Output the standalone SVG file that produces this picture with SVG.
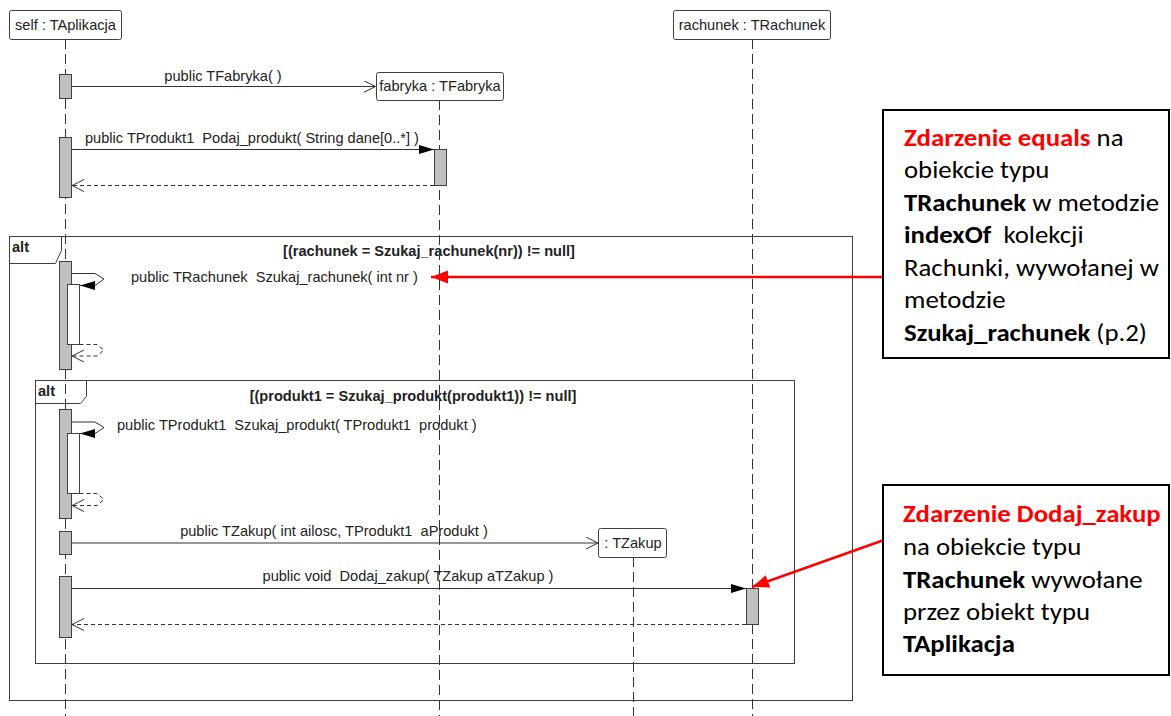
<svg xmlns="http://www.w3.org/2000/svg" width="1171" height="716" viewBox="0 0 1171 716">
<style>
.head{fill:#fff;stroke:#404040;stroke-width:1}
.t{font-family:"Liberation Sans",Arial,sans-serif;font-size:14.6px;fill:#222}
.b{font-weight:bold}
.life{stroke:#333;stroke-width:1;stroke-dasharray:10,5;fill:none}
.act{fill:#c0c0c0;stroke:#404040;stroke-width:1}
.act2{fill:#fff;stroke:#404040;stroke-width:1}
.frame{fill:none;stroke:#404040;stroke-width:1}
.msg{fill:none;stroke:#333;stroke-width:1}
.ret{fill:none;stroke:#333;stroke-width:1;stroke-dasharray:4,3}
.note{fill:#fff;stroke:#000;stroke-width:2}
.nt{font-family:Carlito,Lato,"Noto Sans",sans-serif;font-size:23.5px;fill:#000}
.red{fill:#ff0000;font-weight:bold}
.bb{font-weight:bold}
.ra{stroke:#ff0000;stroke-width:2.5;fill:none}
</style>
<defs>
<marker id="open" markerUnits="userSpaceOnUse" markerWidth="14" markerHeight="14" refX="12" refY="6" orient="auto">
<path d="M0,0 L12,6 L0,12" fill="none" stroke="#333" stroke-width="1"/>
</marker>
<marker id="fill" markerUnits="userSpaceOnUse" markerWidth="16" markerHeight="10" refX="15" refY="4.5" orient="auto">
<path d="M0,0 L15,4.5 L0,9 z" fill="#000"/>
</marker>
<marker id="redh" markerUnits="userSpaceOnUse" markerWidth="18" markerHeight="14" refX="17" refY="6.5" orient="auto">
<path d="M0,0 L17,6.5 L0,13 z" fill="#ff0000"/>
</marker>
</defs>
<rect width="1171" height="716" fill="#fff"/>

<g id="frames">
<rect class="frame" x="9.5" y="236.5" width="843" height="464"/>
<path class="frame" d="M9.5,263.5 H55.5 L61.5,250.5 V236.5"/>
<text class="t b" x="12" y="252" font-size="13">alt</text>
<text class="t b" x="429" y="256" text-anchor="middle">[(rachunek = Szukaj_rachunek(nr)) != null]</text>
<rect class="frame" x="35.5" y="380.5" width="759" height="283"/>
<path class="frame" d="M35.5,403.5 H80.5 L86.5,396.5 V380.5"/>
<text class="t b" x="38" y="396" font-size="13">alt</text>
<text class="t b" x="413" y="401" text-anchor="middle">[(produkt1 = Szukaj_produkt(produkt1)) != null]</text>
</g>

<g id="lifelines">
<line class="life" x1="65.5" y1="39" x2="65.5" y2="716"/>
<line class="life" x1="439.5" y1="100" x2="439.5" y2="716"/>
<line class="life" x1="752.5" y1="39" x2="752.5" y2="716"/>
<line class="life" x1="633.5" y1="557" x2="633.5" y2="716"/>
</g>

<g id="self">
<rect class="head" x="9.5" y="10.5" width="112" height="29" rx="2"/>
<text class="t" x="65.5" y="30" text-anchor="middle">self : TAplikacja</text>
</g>
<g id="fabryka">
<rect class="head" x="376.5" y="72.5" width="127" height="28" rx="2"/>
<text class="t" x="440" y="91" text-anchor="middle">fabryka : TFabryka</text>
</g>
<g id="rachunek">
<rect class="head" x="673.5" y="10.5" width="157" height="29" rx="2"/>
<text class="t" x="752" y="30" text-anchor="middle" font-size="15.3">rachunek : TRachunek</text>
</g>
<g id="zakup">
<rect class="head" x="598.5" y="528.5" width="68" height="29" rx="2"/>
<text class="t" x="633" y="548" text-anchor="middle">: TZakup</text>
</g>

<g id="activations">
<rect class="act" x="59.5" y="74.5" width="12" height="24"/>
<rect class="act" x="59.5" y="137.5" width="12" height="60"/>
<rect class="act" x="434.5" y="149.5" width="12" height="36"/>
<rect class="act" x="59.5" y="261.5" width="12" height="108"/>
<rect class="act2" x="67.5" y="284.5" width="12" height="60"/>
<rect class="act" x="59.5" y="409.5" width="12" height="109"/>
<rect class="act2" x="67.5" y="433.5" width="12" height="60"/>
<rect class="act" x="59.5" y="531.5" width="12" height="23"/>
<rect class="act" x="59.5" y="576.5" width="12" height="61"/>
<rect class="act" x="746.5" y="588.5" width="12" height="36"/>
</g>

<g id="connectors">
<line class="msg" x1="71.5" y1="86.5" x2="375.5" y2="86.5" marker-end="url(#open)"/>
<text class="t" x="223" y="81" text-anchor="middle">public TFabryka( )</text>
<line class="msg" x1="71.5" y1="149.5" x2="434" y2="149.5" marker-end="url(#fill)"/>
<text class="t" x="85" y="143" xml:space="preserve">public TProdukt1  Podaj_produkt( String dane[0..*] )</text>
<line class="ret" x1="434" y1="185.5" x2="72" y2="185.5" marker-end="url(#open)"/>

<polyline class="msg" points="71.5,273.5 95,273.5 104,279 95,285.5 80,285.5" marker-end="url(#fill)"/>
<text class="t" x="131" y="282" xml:space="preserve">public TRachunek  Szukaj_rachunek( int nr )</text>
<polyline class="ret" points="79.5,344.5 97,344.5 104,350 97,356 72,356" marker-end="url(#open)"/>

<polyline class="msg" points="71.5,422 95,422 104,427.5 95,433.5 80,433.5" marker-end="url(#fill)"/>
<text class="t" x="117" y="430" xml:space="preserve">public TProdukt1  Szukaj_produkt( TProdukt1  produkt )</text>
<polyline class="ret" points="79.5,493.5 97,493.5 104,499.5 97,505.5 72,505.5" marker-end="url(#open)"/>

<line class="msg" x1="71.5" y1="543" x2="598" y2="543" marker-end="url(#open)"/>
<text class="t" x="334" y="536" text-anchor="middle" xml:space="preserve">public TZakup( int ailosc, TProdukt1  aProdukt )</text>
<line class="msg" x1="71.5" y1="588.5" x2="746" y2="588.5" marker-end="url(#fill)"/>
<text class="t" x="408" y="581" text-anchor="middle" xml:space="preserve">public void  Dodaj_zakup( TZakup aTZakup )</text>
<line class="ret" x1="746" y1="624.5" x2="72" y2="624.5" marker-end="url(#open)"/>

<line class="ra" x1="884" y1="277" x2="431" y2="277" marker-end="url(#redh)"/>
<line class="ra" x1="884" y1="540" x2="752" y2="587" marker-end="url(#redh)"/>
</g>

<g id="note1">
<rect class="note" x="883" y="110" width="286" height="248"/>
<text class="nt" transform="translate(904,0) scale(1.14,1) translate(-904,0)" xml:space="preserve"><tspan x="904" y="146"><tspan class="red">Zdarzenie equals</tspan> na</tspan><tspan x="904" y="178.5">obiekcie typu</tspan><tspan x="904" y="211"><tspan class="bb">TRachunek</tspan> w metodzie</tspan><tspan x="904" y="243.5"><tspan class="bb">indexOf</tspan>  kolekcji</tspan><tspan x="904" y="276">Rachunki, wywołanej w</tspan><tspan x="904" y="308.5">metodzie</tspan><tspan x="904" y="341"><tspan class="bb">Szukaj_rachunek</tspan> (p.2)</tspan></text>
</g>

<g id="note2">
<rect class="note" x="883" y="485" width="286" height="190"/>
<text class="nt" transform="translate(903,0) scale(1.14,1) translate(-903,0)" xml:space="preserve"><tspan x="903" y="522.5" class="red">Zdarzenie Dodaj_zakup</tspan><tspan x="903" y="555">na obiekcie typu</tspan><tspan x="903" y="587.5"><tspan class="bb">TRachunek</tspan> wywołane</tspan><tspan x="903" y="620">przez obiekt typu</tspan><tspan x="903" y="652.5" class="bb">TAplikacja</tspan></text>
</g>
</svg>
